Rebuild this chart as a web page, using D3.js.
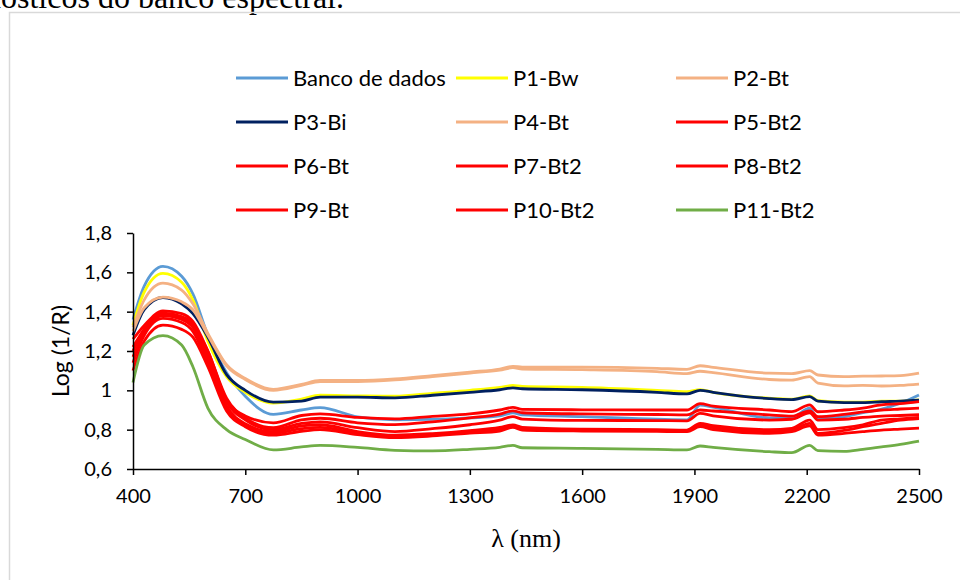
<!DOCTYPE html>
<html lang="pt">
<head>
<meta charset="utf-8">
<title>Log (1/R)</title>
<script src="https://cdn.jsdelivr.net/npm/d3@7"></script>
<style>
body { margin: 0; background: #fff; }
svg { display: block; }
.axis path, .axis line { stroke: #000; stroke-width: 1.5px; }
.axis text { font-family: Lato, sans-serif; font-size: 20px; fill: #000; }
.legend text { font-family: Lato, sans-serif; font-size: 22px; fill: #000; }
</style>
</head>
<body>
<div id="chart"></div>
<script>
// wavelength grid (nm)
var wavelengths = [400, 430, 480, 530, 560, 600, 650, 700, 775, 850, 900, 1000, 1100, 1200, 1300, 1380, 1415, 1440,
                   1600, 1800, 1880, 1915, 1950, 2100, 2160, 2208, 2230, 2300, 2350, 2400, 2450, 2500];

var bancoDeDados = [1.36, 1.53, 1.63, 1.58, 1.49, 1.28, 1.09, 0.97, 0.878, 0.9, 0.912, 0.865, 0.85, 0.852, 0.86, 0.87, 0.885, 0.875,
                    0.866, 0.853, 0.85, 0.925, 0.915, 0.86, 0.862, 0.909, 0.855, 0.866, 0.887, 0.904, 0.934, 0.976];
var p1Bw = [1.33, 1.50, 1.595, 1.55, 1.46, 1.25, 1.07, 0.99, 0.935, 0.955, 0.975, 0.972, 0.97, 0.985, 1.0, 1.015, 1.025, 1.02,
            1.015, 1.0, 0.993, 1.003, 0.99, 0.96, 0.955, 0.972, 0.947, 0.94, 0.94, 0.945, 0.945, 0.952];
var p2Bt = [1.32, 1.46, 1.545, 1.51, 1.44, 1.29, 1.13, 1.06, 1.005, 1.03, 1.05, 1.05, 1.058, 1.075, 1.093, 1.108, 1.122, 1.118,
            1.118, 1.112, 1.107, 1.125, 1.117, 1.087, 1.085, 1.1, 1.078, 1.07, 1.072, 1.073, 1.075, 1.088];
var p3Bi = [1.28, 1.41, 1.472, 1.44, 1.39, 1.27, 1.08, 1.0, 0.94, 0.945, 0.965, 0.965, 0.962, 0.975, 0.99, 1.003, 1.012, 1.008,
            1.003, 0.99, 0.982, 1.0, 0.99, 0.958, 0.953, 0.968, 0.945, 0.938, 0.938, 0.942, 0.945, 0.95];
var p4Bt = [1.30, 1.42, 1.474, 1.45, 1.41, 1.28, 1.125, 1.055, 1.0, 1.025, 1.045, 1.045, 1.053, 1.07, 1.088, 1.103, 1.115, 1.108,
            1.105, 1.095, 1.085, 1.097, 1.09, 1.055, 1.052, 1.07, 1.037, 1.023, 1.025, 1.022, 1.025, 1.032];
var p5Bt2 = [1.2, 1.31, 1.385, 1.37, 1.33, 1.2, 0.95, 0.87, 0.835, 0.872, 0.88, 0.862, 0.855, 0.868, 0.88, 0.9, 0.913, 0.903,
             0.901, 0.9, 0.9, 0.932, 0.92, 0.9, 0.892, 0.926, 0.891, 0.9, 0.91, 0.926, 0.932, 0.943];
var p6Bt = [1.26, 1.33, 1.404, 1.39, 1.35, 1.2, 0.96, 0.86, 0.81, 0.85, 0.858, 0.835, 0.826, 0.84, 0.86, 0.879, 0.896, 0.886,
            0.88, 0.877, 0.875, 0.9, 0.895, 0.875, 0.869, 0.896, 0.866, 0.878, 0.89, 0.9, 0.905, 0.91];
var p7Bt2 = [1.22, 1.31, 1.392, 1.375, 1.34, 1.18, 0.94, 0.85, 0.8, 0.832, 0.84, 0.81, 0.79, 0.805, 0.825, 0.849, 0.866, 0.854,
             0.847, 0.846, 0.845, 0.883, 0.87, 0.849, 0.853, 0.886, 0.849, 0.853, 0.862, 0.869, 0.872, 0.876];
var p8Bt2 = [1.17, 1.29, 1.38, 1.36, 1.32, 1.16, 0.92, 0.83, 0.79, 0.819, 0.825, 0.79, 0.772, 0.78, 0.795, 0.812, 0.824, 0.812,
             0.803, 0.8, 0.798, 0.832, 0.82, 0.8, 0.807, 0.849, 0.8, 0.81, 0.825, 0.849, 0.855, 0.862];
var p9Bt = [1.14, 1.28, 1.366, 1.345, 1.3, 1.14, 0.91, 0.82, 0.782, 0.805, 0.812, 0.782, 0.766, 0.774, 0.788, 0.802, 0.815, 0.805,
            0.797, 0.795, 0.793, 0.824, 0.81, 0.79, 0.798, 0.832, 0.781, 0.796, 0.815, 0.832, 0.848, 0.856];
var p10Bt2 = [1.1, 1.25, 1.332, 1.31, 1.27, 1.12, 0.895, 0.815, 0.772, 0.792, 0.8, 0.775, 0.76, 0.768, 0.782, 0.793, 0.812, 0.798,
              0.793, 0.791, 0.79, 0.815, 0.8, 0.781, 0.79, 0.819, 0.773, 0.781, 0.79, 0.798, 0.803, 0.808];
var p11Bt2 = [1.04, 1.23, 1.278, 1.23, 1.12, 0.91, 0.8, 0.75, 0.697, 0.712, 0.72, 0.71, 0.695, 0.692, 0.7, 0.71, 0.72, 0.708,
              0.705, 0.7, 0.697, 0.717, 0.71, 0.688, 0.683, 0.72, 0.693, 0.69, 0.7, 0.712, 0.725, 0.742];

var seriesNames = ["Banco de dados", "P1-Bw", "P2-Bt", "P3-Bi", "P4-Bt", "P5-Bt2",
                   "P6-Bt", "P7-Bt2", "P8-Bt2", "P9-Bt", "P10-Bt2", "P11-Bt2"];
var seriesValues = [bancoDeDados, p1Bw, p2Bt, p3Bi, p4Bt, p5Bt2, p6Bt, p7Bt2, p8Bt2, p9Bt, p10Bt2, p11Bt2];
var seriesColors = ["#5b9bd5", "#ffff00", "#f4b183", "#002060", "#f4b183", "#ff0000",
                    "#ff0000", "#ff0000", "#ff0000", "#ff0000", "#ff0000", "#70ad47"];

var xTicks = [400, 700, 1000, 1300, 1600, 1900, 2200, 2500];
var yTicks = [0.6, 0.8, 1, 1.2, 1.4, 1.6, 1.8];

var width = 960, height = 580;
var plot = {left: 133, right: 919, top: 233, bottom: 469};

var svg = d3.select("#chart").append("svg")
    .attr("width", width)
    .attr("height", height);

// page text above the chart box (cut off by the screenshot)
svg.append("text")
    .attr("x", 344)
    .attr("y", 7.5)
    .attr("text-anchor", "end")
    .style("font-family", "'Liberation Serif', 'Times New Roman', serif")
    .style("font-size", "32px")
    .text("diagnósticos do banco espectral.");

svg.append("rect")
    .attr("x", 9.5)
    .attr("y", 12.5)
    .attr("width", 960)
    .attr("height", 600)
    .attr("fill", "none")
    .attr("stroke", "#d9d9d9")
    .attr("stroke-width", 1.5);

var x = d3.scaleLinear().domain([400, 2500]).range([plot.left, plot.right]);
var y = d3.scaleLinear().domain([0.6, 1.8]).range([plot.bottom, plot.top]);

var ptBR = d3.formatLocale({decimal: ",", thousands: ".", grouping: [3], currency: ["", ""]});
var fmtY = ptBR.format("~g");

var line = d3.line()
    .x(function(d) { return x(d[0]); })
    .y(function(d) { return y(d[1]); })
    .curve(d3.curveMonotoneX);

var g = svg.append("g");
seriesValues.forEach(function(vals, i) {
  g.append("path")
      .datum(d3.zip(wavelengths, vals))
      .attr("fill", "none")
      .attr("stroke", seriesColors[i])
      .attr("stroke-width", 2.8)
      .attr("stroke-linejoin", "round")
      .attr("d", line);
});

var xAxis = svg.append("g")
    .attr("class", "axis")
    .attr("transform", "translate(0," + plot.bottom + ")")
    .call(d3.axisBottom(x).tickValues(xTicks).tickFormat(function(d) { return d; })
        .tickSize(6).tickSizeOuter(0).tickPadding(14));

var yAxis = svg.append("g")
    .attr("class", "axis")
    .attr("transform", "translate(" + plot.left + ",0)")
    .call(d3.axisLeft(y).tickValues(yTicks).tickFormat(fmtY)
        .tickSize(6).tickSizeOuter(0).tickPadding(15));

svg.append("text")
    .attr("transform", "translate(69," + ((plot.top + plot.bottom) / 2) + ") rotate(-90)")
    .attr("text-anchor", "middle")
    .style("font-family", "Lato, sans-serif")
    .style("font-size", "23px")
    .text("Log (1/R)");

svg.append("text")
    .attr("x", (plot.left + plot.right) / 2)
    .attr("y", 547)
    .attr("text-anchor", "middle")
    .style("font-family", "'Liberation Serif', 'Times New Roman', serif")
    .style("font-size", "26px")
    .text("λ (nm)");

// legend: 3 columns, 4 rows
var legendCols = [236, 456, 676];
var legend = svg.append("g").attr("class", "legend");
seriesNames.forEach(function(name, i) {
  var lx = legendCols[i % 3], ly = 78 + Math.floor(i / 3) * 44;
  legend.append("line")
      .attr("x1", lx).attr("x2", lx + 52)
      .attr("y1", ly).attr("y2", ly)
      .attr("stroke", seriesColors[i])
      .attr("stroke-width", 2.8);
  legend.append("text")
      .attr("x", lx + 57)
      .attr("y", ly)
      .attr("dy", "0.35em")
      .text(name);
});
</script>
</body>
</html>
